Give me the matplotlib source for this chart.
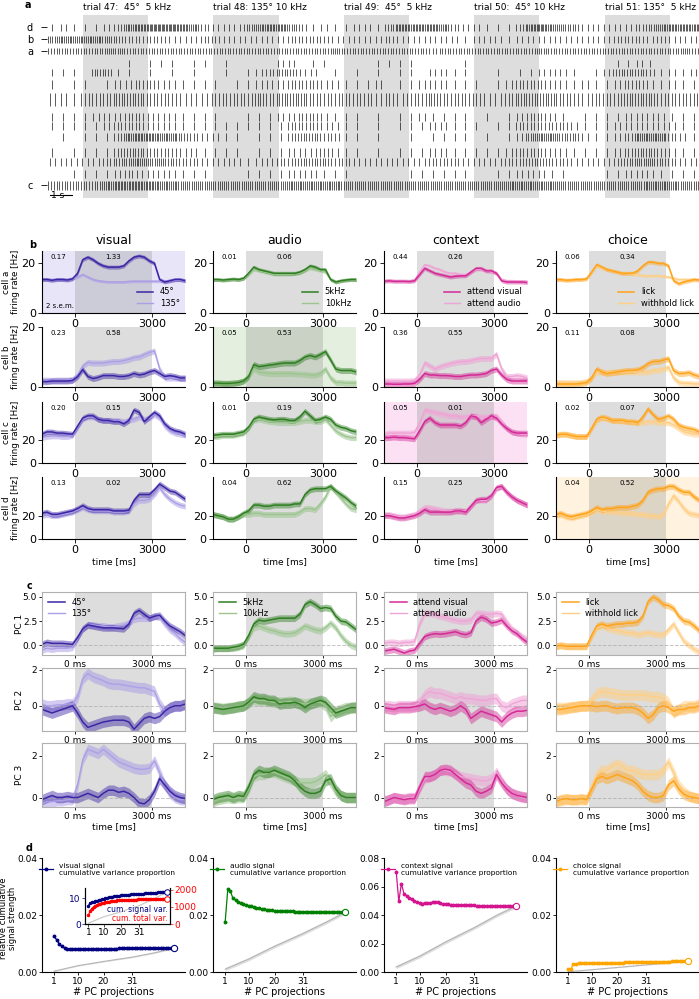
import numpy as np
import matplotlib
matplotlib.use('Agg')
import matplotlib.pyplot as plt

# ---------------- data ----------------
# panel a: spike counts per 0.5 s bin, one string per raster row (30 s shown)
raster_labels = ['d', 'b', 'a', '', '', '', '', '', '', '', '', '', '', 'c']
raster_rows = [
    "1211123678" "8876322246" "7753121122" "1477776322" "1113786542" "2222346777",
    "5666654333" "3222332222" "2233332222" "2322222212" "2212222222" "2233323222",
    "4444455444" "4444444444" "4444445444" "4444434444" "4444454444" "4444444454",
    "0000000101" "1101101000" "0220110000" "1111000010" "0000000000" "0011210000",
    "1110441101" "0101001012" "3442201010" "1011022110" "0101122210" "1244431212",
    "1011012233" "2211110112" "2233322111" "2011222111" "0123332212" "1123321211",
    "2213334443" "3322233334" "3444333333" "2323343333" "2234444332" "3334443333",
    "1111222332" "2211110011" "1223321110" "1011211110" "1012332101" "1112222111",
    "1111123332" "2211111111" "1133322110" "1011122111" "0113333321" "1122222211",
    "0101113677" "6643221101" "1134433110" "1001011110" "1012566442" "1123666321",
    "1011113443" "3322111101" "1122232110" "1011122111" "1123332211" "1123443211",
    "2222234565" "5433222212" "2334443322" "2222233322" "2233443322" "2234554322",
    "0011112322" "2211100011" "1122211100" "0001111110" "0112221100" "0112221111",
    "4444467777" "6655555555" "5566666555" "5555555555" "5566666555" "5555566655",
]
bin_s = 0.5
stim_on = [1.66, 7.66, 13.66, 19.66, 25.66]
trial_names = ["trial 47:  45°  5 kHz", "trial 48: 135° 10 kHz", "trial 49:  45°  5 kHz",
               "trial 50:  45° 10 kHz", "trial 51: 135°  5 kHz"]

# panels b/c: time grid [ms]
t = np.arange(-1300, 4301, 200)

columns = ['visual', 'audio', 'context', 'choice']
legend_names = [('45°', '135°'), ('5kHz', '10kHz'), ('attend visual', 'attend audio'),
                ('lick', 'withhold lick')]

# cell a
vis_a_45 = [13.5,13.5,13.2,13.5,13.5,13.3,13.8,16,21.5,22.5,21.5,20,19,18.5,18.5,18.5,19,21,22.5,23,22.5,21,20,13.5,12.5,13,13.5,13.5,13]
vis_a_135 = [13.5,13.5,13.2,13.5,13.5,13.3,13.8,14.5,15.5,14.5,13.5,13,12.7,12.5,12.5,12.5,12.5,12.7,12.8,12.8,12.8,12.8,12.8,12.8,12.8,13,13.2,13.2,13]
aud_a_5 = [13.5,13.5,13.3,13.5,13.7,13.5,14,16,18.5,17.5,17,16.5,16,16,16,16,16,16.5,17.5,19,18.5,17.5,17.5,13.5,12.5,13,13.3,13.5,13.5]
aud_a_10 = [13.3,13.4,13.2,13.4,13.6,13.4,13.8,15.5,17.5,17,16.5,16,15.5,15.5,15.5,15.5,15.8,16,17,18,17.5,17,16.5,13.5,12.5,13,13.3,13.5,13.2]
ctx_a_vis = [12.8,13,12.8,12.8,12.8,12.7,13,15.5,18,17,16,15.5,15,14.5,14.8,15,15,16.5,18,18,17,17,16,13,12.5,12.5,12.5,12.5,12.3]
ctx_a_aud = [13,13.2,13,13,13,13,13.2,16.5,19.5,19,18,17.5,16.5,16,16,15.5,15.5,16.5,17.5,17.5,17,16.5,16,13.5,13,13,12.8,12.8,12.8]
cho_a_lick = [13.5,13.5,13.2,13.3,13.5,13.5,13.8,16.5,19.5,18.5,17.5,17,16.5,16,16,16,17,19,20.5,20.5,20,20,19,13,11.8,12.5,13,13.5,13.3]
cho_a_no = [13.5,13.5,13.2,13.3,13.5,13.5,13.8,16.5,19,18,17.5,17,16.5,16,16,15.5,15.5,15,15,15,15,14.8,14.5,14,13.5,13.5,13.5,13.5,13.3]
# cell b
vis_b_45 = [1.8,1.8,2,2,2,2,2.2,3.5,5.8,3.5,2.8,3.2,3.8,3.8,3.8,3.5,3.5,3.8,4.5,4,4.3,5,5.5,4.5,3.5,3.8,3.5,3,3]
vis_b_135 = [2.3,2.3,2.2,2.3,2.3,2.3,2.5,4,7,8.2,8,8,8,8.3,8.5,8.5,8.8,9.2,9.8,10,10.8,11.5,12,6,3,3,3,2.8,2.8]
aud_b_5 = [1.3,1.3,1.2,1.2,1.3,1.5,2,3.5,7.5,6.8,7,7.3,7.5,7.8,8,8,8,8.8,10,10.5,10,10.8,11.8,9,6,5.5,5.5,5.5,5]
aud_b_10 = [1.3,1.3,1.2,1.2,1.3,1.5,2,3.5,6,5,4.7,4.5,4.5,4.5,4.5,4.5,4.4,4.3,4.2,4,4,4.5,6,3,1.5,1.5,1.3,1.3,1.3]
ctx_b_vis = [1,1,0.9,0.9,1,1,1.2,2.5,4.5,4,4,3.8,3.8,3.7,3.5,3.5,3.8,4,4,4.2,4.5,5.5,6,4,2.5,2,2,2,2]
ctx_b_aud = [2,2,2,2,2,2,2.2,4,8,7,6,6.8,7.3,7.8,8.2,8.5,8.5,8.8,9.2,9.5,9.5,9.5,11,6,3.5,3.5,3.8,3.5,3]
cho_b_lick = [1,1,1,1,1,1.2,1.5,3,6,5,4.5,4.8,5,5.3,5.5,5.5,5.8,6.5,7.8,8.5,8.5,9,9.5,5.5,4.5,4.5,4.8,4,3.5]
cho_b_no = [1.5,1.5,1.4,1.4,1.4,1.5,1.8,3,5,5,4.8,5,5,5,5,5,5,5,5,5.5,5.5,6,6.5,3,1.5,1.2,1.2,1,1]
# cell c
vis_c_45 = [25,27,27,26,26,25.5,25,32,39,41,41,38,37,37,36,36,34,37,46,44,36,40,44,41,34,30,28,27,25]
vis_c_135 = [22,23,23.5,23.5,23,23,24,31,38,40,40,38,37,37,37,37,36,37,38,40,38,39,42,39,32,28,26,25,24]
aud_c_5 = [24,24.5,25,25,25,26,27,31,38,40,39,38,37.5,38,38,37,37,40,45,41,37,38,40,38,33,31,30,28,27]
aud_c_10 = [23,23,24,24,24,25,26,30,37,38,37,36,35.5,35,35,35,35,36,37,37,36,36,38,33,28,25,23,22,22]
ctx_c_vis = [22,22,22.5,22,22,21.5,21,28,36,39,35,33,33,33,33,32,35,41,40,35,38,41,39,34,30,27,26,26,26]
ctx_c_aud = [25,26,26,26,26,26,26.5,35,46,45,44,43,42,41,41,40,40,41,41,40,40,40,41,36,30,27,26,25,25]
cho_c_lick = [24,25,25,24,23,23,23,30,38,40,39,37,37,37,36,36,35,40,47,42,38,39,41,38,33,31,30,29,27]
cho_c_no = [24,25,25,24,23,23,23,30,37,39,38,37,37,36,36,35,35,35,36,36,35,35,35,33,30,27,26,25,25]
# cell d
vis_d_45 = [22,23,21,21,22,23,24,26,28.5,26,25,25,25,25,24,24,24,24.5,33,38,38,38,42,47,44,41,40,37,34]
vis_d_135 = [20,21,20,20,21,22,23,25,27,25,24,24,24,24,23,23,23,24,30,33,33,34,38,44,38,34,31,29,28]
aud_d_5 = [21,20,19,17,17,19,22,24,29,29,28,28,29,29,29,29,30,30,38,42,43,43,43,45,41,38,35,31,28]
aud_d_10 = [21,20,19,17,17,19,21,21,22,22,21,21,21,21,21,21,21,23,26,26,25,30,36,45,40,35,30,26,25]
ctx_d_vis = [20,20,19,18,18,19,20,22,25,23,23,23,23,23,24,24,23,28,33,34,34,37,44,45,40,36,33,31,29]
ctx_d_aud = [21,21,20,19,19,20,21,24,27,27,26,25,24,24,24,24,24,28,33,33,33,37,43,45,40,36,33,31,29]
cho_d_lick = [21,22,20,19,20,21,22,24,27,25,26,26,27,27,27,28,29,33,40,42,43,43,45,45,42,40,40,36,33]
cho_d_no = [20,21,19,18,19,20,21,23,25,24,23,23,23,22,22,22,21,21,20,20,19,21,30,37,32,26,22,21,20]

cell_sem = [(0.8, 0.6), (1.0, 1.0), (2.5, 2.5), (2.5, 2.5)]
cell_ylim = [25, 20, 53, 53]
sep_pre = [['0.17', '0.23', '0.20', '0.13'], ['0.01', '0.05', '0.01', '0.04'],
           ['0.44', '0.36', '0.05', '0.15'], ['0.06', '0.11', '0.02', '0.04']]
sep_stim = [['1.33', '0.58', '0.15', '0.02'], ['0.06', '0.53', '0.19', '0.62'],
            ['0.26', '0.55', '0.01', '0.25'], ['0.34', '0.08', '0.07', '0.52']]

# PC projections
vis_pc1_45 = [0.1,0.3,0.2,0.2,0.2,0.15,0.1,0.8,1.7,2.1,2.0,1.9,1.8,1.8,1.8,1.75,1.7,2.2,3.3,3.6,3.2,2.8,3.0,3.1,2.5,2.0,1.7,1.4,1.0]
vis_pc1_135 = [-0.5,-0.3,-0.4,-0.3,-0.3,-0.3,-0.2,0.7,1.7,2.1,2.1,2.0,2.0,1.9,1.9,2.0,2.1,2.3,2.7,2.8,2.8,2.8,3.0,2.9,2.2,1.6,1.2,0.7,0.3]
aud_pc1_5 = [-0.3,-0.3,-0.3,-0.3,-0.2,-0.1,0.1,1.0,2.2,2.6,2.5,2.6,2.7,2.8,2.8,2.8,2.8,3.2,4.2,4.5,4.2,3.8,3.9,3.8,3.0,2.5,2.4,2.0,1.6]
aud_pc1_10 = [-0.4,-0.3,-0.3,-0.3,-0.3,-0.2,0.0,0.9,1.8,2.0,1.8,1.6,1.5,1.3,1.2,1.2,1.3,1.6,2.0,1.8,1.6,1.5,1.8,2.3,1.8,1.0,0.4,0.0,-0.2]
ctx_pc1_vis = [-0.6,-0.5,-0.4,-0.6,-0.8,-0.6,-0.5,0.2,0.9,1.1,1.2,1.15,1.2,1.3,1.4,1.2,1.1,1.3,2.5,2.9,2.7,2.3,2.4,2.6,2.0,1.5,1.2,0.7,0.3]
ctx_pc1_aud = [0.2,0.3,0.3,0.2,0.3,0.3,0.4,2.2,3.3,3.3,3.2,3.0,2.9,2.7,2.6,2.5,2.5,2.6,3.3,3.3,3.2,3.2,3.3,3.2,2.4,1.7,1.3,0.9,0.6]
cho_pc1_lick = [-0.1,0.0,-0.1,-0.1,-0.1,-0.1,-0.1,1.0,2.0,2.2,2.0,2.1,2.2,2.2,2.3,2.3,2.4,3.0,4.5,5.0,4.7,4.2,4.1,3.8,3.0,2.5,2.4,2.0,1.5]
cho_pc1_no = [-0.1,0.0,-0.1,-0.1,-0.1,-0.1,-0.1,0.9,1.8,2.0,1.8,1.6,1.5,1.4,1.3,1.3,1.1,1.2,1.3,1.2,1.1,1.1,1.6,2.2,1.3,0.4,0.0,-0.4,-0.7]

vis_pc2_45 = [-0.2,-0.3,-0.4,-0.3,-0.2,-0.1,0.0,-0.4,-0.9,-1.2,-1.1,-1.0,-0.9,-0.85,-0.8,-0.8,-0.8,-0.9,-1.3,-1.0,-0.7,-0.6,-0.7,-0.6,-0.3,-0.1,0.0,0.0,0.1]
vis_pc2_135 = [0.1,0.0,0.0,0.05,0.05,0.1,0.1,0.5,1.5,1.8,1.6,1.5,1.4,1.25,1.2,1.2,1.15,1.1,1.05,1.0,1.0,0.9,0.8,0.1,-0.3,-0.1,0.0,0.0,0.1]
aud_pc2_5 = [-0.1,-0.15,-0.2,-0.15,-0.1,-0.05,0.0,0.2,0.5,0.4,0.4,0.3,0.3,0.1,0.15,0.15,0.2,0.1,-0.1,0.1,0.2,0.3,0.2,-0.1,-0.4,-0.3,-0.2,-0.1,-0.1]
aud_pc2_10 = [-0.1,-0.1,-0.15,-0.1,-0.1,0.0,0.0,0.15,0.35,0.3,0.3,0.25,0.2,0.2,0.2,0.25,0.2,0.15,0.1,0.15,0.2,0.2,0.0,-0.6,-0.3,-0.2,-0.1,-0.1,-0.05]
ctx_pc2_vis = [-0.1,-0.15,-0.2,-0.1,-0.1,-0.1,-0.05,0.0,0.1,-0.1,-0.2,-0.1,-0.2,-0.3,-0.2,0.0,-0.2,-0.7,-0.5,-0.3,-0.4,-0.5,-0.6,-0.9,-0.6,-0.4,-0.3,-0.3,-0.25]
ctx_pc2_aud = [0.0,0.0,-0.05,0.0,0.0,0.0,0.0,0.2,0.6,0.8,0.7,0.7,0.6,0.5,0.4,0.5,0.4,0.4,0.35,0.3,0.3,0.4,0.4,0.0,-0.1,0.1,0.2,0.3,0.3]
cho_pc2_lick = [-0.2,-0.2,-0.15,-0.1,-0.05,0.0,0.0,0.0,-0.05,0.0,0.0,-0.1,-0.15,-0.1,-0.1,-0.1,-0.2,-0.4,-0.7,-0.5,-0.1,0.0,-0.1,-0.3,-0.2,-0.2,-0.1,-0.1,0.0]
cho_pc2_no = [-0.1,-0.1,-0.1,-0.05,-0.05,0.0,0.0,0.3,0.7,0.8,0.75,0.7,0.65,0.6,0.6,0.6,0.6,0.6,0.55,0.5,0.5,0.4,0.2,-0.4,-0.2,0.0,0.0,0.0,0.1]

vis_pc3_45 = [-0.1,0.0,0.1,0.0,0.0,0.05,0.0,0.0,0.1,0.2,0.1,0.0,0.2,0.35,0.35,0.25,0.3,0.2,0.0,-0.25,-0.3,-0.1,0.3,0.9,0.6,0.3,0.1,0.0,-0.05]
vis_pc3_135 = [-0.3,-0.2,-0.2,-0.15,-0.15,-0.1,-0.1,0.6,1.8,2.3,2.2,2.1,2.3,2.1,1.9,1.7,1.6,1.5,1.4,1.35,1.35,1.4,1.75,1.2,0.6,0.2,0.0,-0.1,-0.1]
aud_pc3_5 = [-0.1,0.0,0.05,0.1,0.0,0.1,0.05,0.5,1.1,1.3,1.2,1.2,1.3,1.2,1.1,1.0,0.8,0.5,0.3,0.2,0.2,0.3,0.8,0.9,0.4,0.1,0.0,0.0,0.0]
aud_pc3_10 = [-0.2,-0.1,-0.05,0.0,-0.05,0.0,0.0,0.4,1.0,1.1,1.1,1.2,1.2,1.1,1.0,0.9,0.8,0.7,0.7,0.7,0.75,0.9,1.1,0.7,0.3,0.1,0.0,0.0,0.0]
ctx_pc3_vis = [-0.2,-0.1,0.0,-0.05,-0.1,-0.05,-0.05,0.5,1.0,1.0,1.1,1.3,1.35,1.3,1.1,0.9,0.7,0.6,0.3,0.2,0.3,0.45,1.1,0.7,0.4,0.2,0.1,0.05,0.0]
ctx_pc3_aud = [-0.15,-0.1,0.0,-0.05,-0.05,0.0,0.0,0.4,0.9,1.0,1.1,1.3,1.3,1.25,1.15,1.0,0.95,0.9,0.85,0.8,0.8,0.9,1.2,0.8,0.4,0.2,0.1,0.0,0.0]
cho_pc3_lick = [-0.2,-0.1,-0.05,-0.1,-0.1,-0.05,-0.1,0.4,0.9,1.0,0.9,1.0,1.1,1.0,0.9,0.8,0.6,0.3,0.1,0.0,0.0,0.1,0.6,0.8,0.4,0.15,0.05,0.0,-0.05]
cho_pc3_no = [-0.15,-0.15,-0.1,-0.1,-0.1,-0.1,-0.1,0.5,1.1,1.3,1.3,1.5,1.6,1.5,1.3,1.3,1.2,1.1,1.1,1.1,1.1,1.3,1.7,1.2,0.6,0.3,0.1,0.0,-0.05]

pc_sem = [0.35, 0.3, 0.25]
pc_ylim = [(-1.0, 5.5), (-1.4, 2.1), (-0.45, 2.6)]
pc_ticks = [[0.0, 2.5, 5.0], [0, 2], [0, 2]]

# panel d: cumulative signal strength per number of PC projections
n_pc = np.arange(1, 48)
vis_sig = [0.0125,0.0112,0.0098,0.009,0.0085,0.0082,0.0081,0.008,0.008,0.0081,0.0081,0.0081,0.0082,0.0081,0.0081,0.0082,0.0082,0.0082,0.0082,0.0082,0.0082,0.0082,0.0082,0.0082,0.0082,0.0083,0.0083,0.0083,0.0083,0.0083,0.0083,0.0083,0.0083,0.0083,0.0083,0.0083,0.0083,0.0083,0.0083,0.0083,0.0083,0.0083,0.0083,0.0083,0.0083,0.0083,0.0083]
aud_sig = [0.0177,0.0291,0.0284,0.0258,0.0252,0.0247,0.0243,0.0239,0.0236,0.0233,0.023,0.0228,0.0226,0.0224,0.0222,0.022,0.0219,0.0217,0.0216,0.0215,0.0214,0.0214,0.0214,0.0213,0.0213,0.0213,0.0213,0.0212,0.0212,0.0212,0.0212,0.0211,0.0211,0.0211,0.0211,0.0211,0.021,0.021,0.021,0.021,0.021,0.021,0.021,0.0209,0.0209,0.0209,0.0209]
ctx_sig = [0.0705,0.0495,0.062,0.055,0.0535,0.052,0.051,0.05,0.049,0.0485,0.048,0.0485,0.0485,0.0485,0.049,0.049,0.0488,0.0482,0.0478,0.0476,0.0474,0.0473,0.0472,0.0471,0.047,0.047,0.0469,0.0468,0.0468,0.0467,0.0467,0.0466,0.0466,0.0465,0.0465,0.0465,0.0464,0.0464,0.0463,0.0463,0.0462,0.0462,0.0462,0.0461,0.0461,0.046,0.046]
cho_sig = [0.0012,0.001,0.0028,0.0028,0.003,0.0031,0.0031,0.0031,0.0031,0.0031,0.0031,0.0031,0.0032,0.0032,0.0032,0.0032,0.0032,0.0033,0.0033,0.0033,0.0033,0.0033,0.0034,0.0034,0.0034,0.0034,0.0034,0.0034,0.0035,0.0035,0.0035,0.0035,0.0035,0.0035,0.0036,0.0036,0.0036,0.0036,0.0036,0.0036,0.0037,0.0037,0.0037,0.0037,0.0037,0.0037,0.0037]
ref_pc = [1, 10, 20, 31, 40, 47]
vis_ref = [0.0003, 0.0022, 0.0037, 0.0052, 0.0068, 0.0083]
aud_ref = [0.001, 0.0045, 0.009, 0.0135, 0.0175, 0.0208]
ctx_ref = [0.0035, 0.011, 0.021, 0.031, 0.040, 0.046]
cho_ref = [0.0001, 0.0008, 0.0016, 0.0025, 0.0032, 0.0037]
ref_band = [0.0002, 0.0006, 0.0012, 0.0001]
d_ylim = [0.04, 0.04, 0.08, 0.04]
inset_sig = [7.1,8.2,8.4,8.6,8.8,9.0,9.2,9.4,9.6,9.8,10.0,10.2,10.4,10.5,10.6,10.7,10.8,10.9,11.0,11.1,11.2,11.2,11.3,11.4,11.4,11.5,11.5,11.6,11.6,11.7,11.7,11.8,11.8,11.9,11.9,12.0,12.0,12.1,12.1,12.2,12.2,12.3,12.3,12.4,12.4,12.5,12.6]
inset_tot = [500,760,900,1000,1060,1100,1140,1180,1210,1240,1270,1290,1310,1330,1345,1360,1370,1380,1390,1395,1400,1405,1410,1415,1420,1422,1424,1426,1428,1430,1432,1434,1436,1438,1440,1441,1442,1443,1444,1445,1446,1447,1448,1449,1450,1451,1452]
inset_ref = [0.3, 2.8, 4.7, 7.2, 9.9, 12.5]

# ---------------- styling / layout ----------------
dark = ['#3d26a6', '#2f7f22', '#d42a96', '#ffa31a']
light = ['#ad9fe6', '#9cc58f', '#f0a3d6', '#ffcf85']
bg = ['#e9e5f9', '#e5efe0', '#fbe1f3', '#fff2de']
d_col = ['navy', 'green', '#d4148f', 'orange']
stim_gray = '#8c918c'

W, H = 699, 999
fig = plt.figure(figsize=(W / 100, H / 100), dpi=100)


def add_ax(x0, y0, x1, y1):
    return fig.add_axes([x0 / W, 1 - y1 / H, (x1 - x0) / W, (y1 - y0) / H])


def ftext(x, y, s, **kw):
    fig.text(x / W, 1 - y / H, s, **kw)


col_x = [42, 213, 384, 556]
col_w = 143

# ---- panel a: raster ----
ax = add_ax(47, 15, 699, 198)
row_y = [27, 39, 51, 63, 72, 84, 99, 117, 126, 137, 152, 162, 174, 185]
row_len = [7, 7, 6, 7, 7, 9, 13, 8, 8, 8, 9, 8, 8, 9]
for on in stim_on:
    ax.axvspan(on, on + 3, color=stim_gray, alpha=0.3, lw=0)
spikes = []
for row in raster_rows:
    times = []
    for k, ch in enumerate(row):
        n = int(ch)
        for j in range(n):
            times.append(k * bin_s + (j + 0.5) * bin_s / n)
    spikes.append(times)
ax.eventplot(spikes, lineoffsets=row_y, linelengths=row_len, colors='black', linewidths=0.45)
ax.set_xlim(0, 30)
ax.set_ylim(198, 15)
lab_pos = [y for y, l in zip(row_y, raster_labels) if l]
ax.set_yticks(lab_pos)
ax.set_yticklabels([l for l in raster_labels if l], fontsize=7)
ax.tick_params(axis='y', length=4, width=0.6, pad=6)
ax.set_xticks([])
for s in ax.spines.values():
    s.set_visible(False)
for on, name in zip(stim_on, trial_names):
    ax.text(on, 12, name, fontsize=6.5, ha='left', va='bottom')
ax.plot([0.15, 1.15], [195, 195], color='black', lw=0.8, clip_on=False)
ax.text(0.2, 195, '1 s', fontsize=6.5, va='center', ha='left')

# ---- panel b: single cells ----
cell_data = [
    [(vis_a_45, vis_a_135), (vis_b_45, vis_b_135), (vis_c_45, vis_c_135), (vis_d_45, vis_d_135)],
    [(aud_a_5, aud_a_10), (aud_b_5, aud_b_10), (aud_c_5, aud_c_10), (aud_d_5, aud_d_10)],
    [(ctx_a_vis, ctx_a_aud), (ctx_b_vis, ctx_b_aud), (ctx_c_vis, ctx_c_aud), (ctx_d_vis, ctx_d_aud)],
    [(cho_a_lick, cho_a_no), (cho_b_lick, cho_b_no), (cho_c_lick, cho_c_no), (cho_d_lick, cho_d_no)],
]
b_rows = [(251, 313), (327, 387), (402, 463), (477, 539)]
cells = ['a', 'b', 'c', 'd']
for j in range(4):
    ftext(col_x[j] + col_w / 2, 241, columns[j], fontsize=9, ha='center', va='center')
    for i in range(4):
        ax = add_ax(col_x[j], b_rows[i][0], col_x[j] + col_w, b_rows[i][1])
        if i == j:
            ax.set_facecolor(bg[j])
        ax.axvspan(0, 3000, color=stim_gray, alpha=0.3, lw=0)
        y1 = np.array(cell_data[j][i][0])
        y2 = np.array(cell_data[j][i][1])
        s1, s2 = cell_sem[i]
        ax.fill_between(t, y2 - s2, y2 + s2, color=light[j], alpha=0.55, lw=0)
        ax.plot(t, y2, color=light[j], lw=1, label=legend_names[j][1])
        ax.fill_between(t, y1 - s1, y1 + s1, color=dark[j], alpha=0.45, lw=0)
        ax.plot(t, y1, color=dark[j], lw=1.1, label=legend_names[j][0])
        ax.set_xlim(-1290, 4290)
        ax.set_ylim(0, cell_ylim[i])
        ax.set_yticks([0, 20])
        ax.set_xticks([0, 3000])
        ax.tick_params(labelsize=8, length=3, width=0.6, pad=1.5)
        ax.spines['top'].set_visible(False)
        ax.spines['right'].set_visible(False)
        trans = ax.get_xaxis_transform()
        ax.text(-650, 0.95, sep_pre[j][i], transform=trans, fontsize=5, ha='center', va='top')
        ax.text(1500, 0.95, sep_stim[j][i], transform=trans, fontsize=5, ha='center', va='top')
        if i == 0:
            h, l = ax.get_legend_handles_labels()
            ax.legend(h[::-1], l[::-1], loc='lower right', fontsize=6, frameon=False,
                      handlelength=2, labelspacing=0.3, borderaxespad=0.2)
            if j == 0:
                ax.text(-1150, 1.5, '2 s.e.m.', fontsize=5, ha='left', va='bottom')
        if i == 3:
            ax.set_xlabel('time [ms]', fontsize=6.5, labelpad=1)
        if j == 0:
            ftext(11, sum(b_rows[i]) / 2, 'cell %s\nfiring rate [Hz]' % cells[i], fontsize=6.3,
                  rotation=90, ha='center', va='center', multialignment='center',
                  linespacing=1.1)

# ---- panel c: PC projections ----
pc_data = [
    [(vis_pc1_45, vis_pc1_135), (vis_pc2_45, vis_pc2_135), (vis_pc3_45, vis_pc3_135)],
    [(aud_pc1_5, aud_pc1_10), (aud_pc2_5, aud_pc2_10), (aud_pc3_5, aud_pc3_10)],
    [(ctx_pc1_vis, ctx_pc1_aud), (ctx_pc2_vis, ctx_pc2_aud), (ctx_pc3_vis, ctx_pc3_aud)],
    [(cho_pc1_lick, cho_pc1_no), (cho_pc2_lick, cho_pc2_no), (cho_pc3_lick, cho_pc3_no)],
]
c_rows = [(592, 655), (668, 731), (743, 807)]
for j in range(4):
    for i in range(3):
        ax = add_ax(col_x[j], c_rows[i][0], col_x[j] + col_w, c_rows[i][1])
        ax.axvspan(0, 3000, color=stim_gray, alpha=0.3, lw=0)
        ax.axhline(0, color='#aaaaaa', lw=0.7, ls='--', alpha=0.7)
        y1 = np.array(pc_data[j][i][0])
        y2 = np.array(pc_data[j][i][1])
        s = pc_sem[i]
        ax.fill_between(t, y2 - s, y2 + s, color=light[j], alpha=0.55, lw=0)
        ax.plot(t, y2, color=light[j], lw=1, label=legend_names[j][1])
        ax.fill_between(t, y1 - s, y1 + s, color=dark[j], alpha=0.45, lw=0)
        ax.plot(t, y1, color=dark[j], lw=1.1, label=legend_names[j][0])
        ax.set_xlim(-1290, 4290)
        ax.set_ylim(*pc_ylim[i])
        ax.set_yticks(pc_ticks[i])
        if i == 0:
            ax.set_yticklabels(['0.0', '2.5', '5.0'])
        ax.set_xticks([0, 3000])
        ax.set_xticklabels(['0 ms', '3000 ms'])
        ax.tick_params(labelsize=6.5, length=2, width=0.6, pad=1.5)
        for sp in ax.spines.values():
            sp.set_color('#b0b0b0')
        if i == 0:
            h, l = ax.get_legend_handles_labels()
            ax.legend(h[::-1], l[::-1], loc='upper left', fontsize=6, frameon=False,
                      handlelength=2, labelspacing=0.3, borderaxespad=0.3)
        if i == 2:
            ax.set_xlabel('time [ms]', fontsize=6.5, labelpad=1)
        if j == 0:
            ftext(20, sum(c_rows[i]) / 2, 'PC %d' % (i + 1), fontsize=6.5, rotation=90,
                  ha='center', va='center')

# ---- panel d: cumulative signal strength ----
d_sig = [vis_sig, aud_sig, ctx_sig, cho_sig]
d_ref = [vis_ref, aud_ref, ctx_ref, cho_ref]
for j in range(4):
    ax = add_ax(col_x[j], 858, col_x[j] + col_w, 972)
    ref = np.array(d_ref[j])
    ax.fill_between(ref_pc, ref - ref_band[j], ref + ref_band[j], color='#cccccc', alpha=0.6, lw=0)
    ax.plot(ref_pc, ref, color='#b5b5b5', lw=0.8)
    ax.plot(n_pc, d_sig[j], color=d_col[j], lw=0.9, marker='o', ms=1.8,
            label='%s signal\ncumulative variance proportion' % columns[j])
    ax.plot(n_pc[-1], d_sig[j][-1], 'o', ms=4.5, mfc='white', mec=d_col[j], mew=0.8)
    ax.set_xlim(-3.7, 51.4)
    ax.set_ylim(0, d_ylim[j])
    ax.set_yticks(np.arange(0, d_ylim[j] + 1e-9, 0.02))
    ax.yaxis.set_major_formatter(plt.FormatStrFormatter('%.2f'))
    ax.set_xticks([1, 10, 20, 31])
    ax.tick_params(labelsize=6.5, length=2.5, width=0.6, pad=1)
    ax.spines['top'].set_visible(False)
    ax.spines['right'].set_visible(False)
    ax.set_xlabel('# PC projections', fontsize=7, labelpad=0.5)
    ax.legend(loc='upper left', bbox_to_anchor=(-0.02, 0.96), fontsize=5.3, frameon=False,
              borderaxespad=0, borderpad=0, handlelength=1.9, handletextpad=0.8)
    if j == 0:
        ftext(8, 918, 'relative cumulative\nsignal strength', fontsize=6, rotation=90,
              ha='center', va='center', multialignment='center', linespacing=1.0)

# inset
axi = add_ax(85, 888, 170, 924)
axi.plot(ref_pc, inset_ref, color='#c8c8c8', lw=0.8)
axi.plot(n_pc, inset_sig, color='navy', lw=0.9, marker='o', ms=1.5)
axi.plot(n_pc[-1], inset_sig[-1], 'o', ms=4, mfc='white', mec='navy', mew=0.7)
axi.set_ylim(0, 14)
axi.set_yticks([0, 10])
axi.set_xlim(-1, 49)
axi.set_xticks([1, 10, 20, 31])
axi.tick_params(labelsize=6.5, length=2, width=0.5, pad=1)
axi.tick_params(axis='y', colors='navy')
axi.spines['top'].set_visible(False)
axr = axi.twinx()
axr.plot(n_pc, inset_tot, color='red', lw=0.9, marker='o', ms=1.5)
axr.plot(n_pc[-1], inset_tot[-1], 'o', ms=4, mfc='white', mec='red', mew=0.7)
axr.set_ylim(0, 2100)
axr.set_yticks([0, 1000, 2000])
axr.tick_params(labelsize=6.5, length=2, width=0.5, pad=1, colors='red')
axr.spines['top'].set_visible(False)
axi.text(0.97, 0.28, 'cum. signal var.', transform=axi.transAxes, color='navy', fontsize=5.5,
         ha='right', va='bottom')
axi.text(0.97, 0.02, 'cum. total var.', transform=axi.transAxes, color='red', fontsize=5.5,
         ha='right', va='bottom')

# panel letters
for letter, (x, y) in zip('abcd', [(28, 5), (33, 245), (29, 586), (29, 848)]):
    ftext(x, y, letter, fontsize=7, fontweight='bold', ha='center', va='center')

fig.savefig('out.png', dpi=100)
